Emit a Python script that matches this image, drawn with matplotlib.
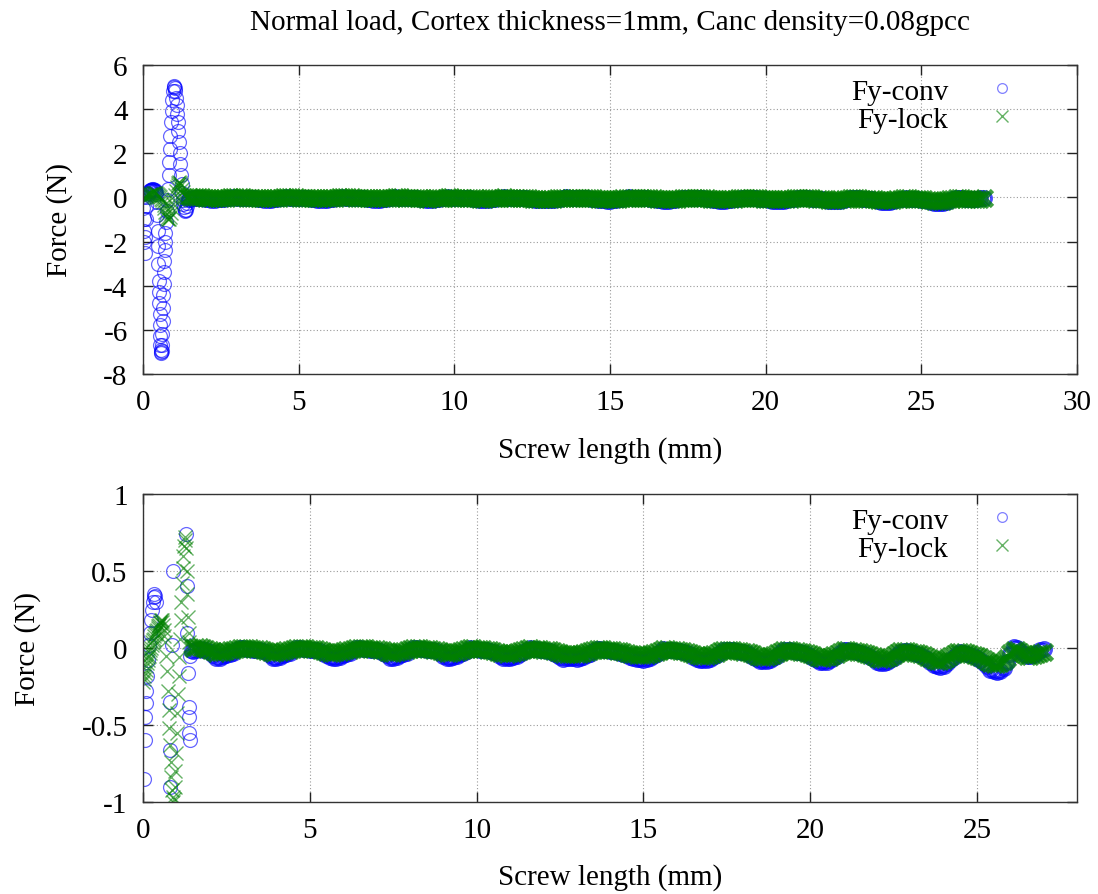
import numpy as np
import matplotlib
matplotlib.use("Agg")
import matplotlib.pyplot as plt
from matplotlib.lines import Line2D

plt.rcParams["font.family"] = ["Liberation Serif", "DejaVu Serif"]
plt.rcParams["axes.unicode_minus"] = False

TITLE = "Normal load, Cortex thickness=1mm, Canc density=0.08gpcc"
XLABEL = "Screw length (mm)"
YLABEL = "Force (N)"
SERIES = ["Fy-conv", "Fy-lock"]

# ---------------- upper panel: head region (0 - 1.5 mm) ----------------
top_conv_head_x = [0.00, 0.01, 0.02, 0.03, 0.04, 0.05, 0.07, 0.09, 0.11, 0.13, 0.15, 0.17,
                   0.19, 0.21, 0.23, 0.25, 0.27, 0.29, 0.31, 0.33, 0.35, 0.37, 0.39, 0.41,
                   0.43, 0.45, 0.46, 0.47, 0.48, 0.49, 0.50, 0.51, 0.52, 0.53, 0.54, 0.55,
                   0.56, 0.57, 0.58, 0.59, 0.60, 0.61, 0.62, 0.63, 0.64, 0.65, 0.66, 0.67,
                   0.68, 0.70, 0.71, 0.72, 0.74, 0.76, 0.78, 0.80, 0.82, 0.84, 0.86, 0.88,
                   0.90, 0.92, 0.94, 0.96, 0.98, 1.00, 1.02, 1.04, 1.06, 1.08, 1.10, 1.12,
                   1.14, 1.16, 1.18, 1.20, 1.22, 1.24, 1.26, 1.28, 1.30, 1.32, 1.34, 1.36,
                   1.38, 1.40, 1.42, 1.44, 1.46, 1.48]
top_conv_head_y = [0.0, -0.5, -1.0, -1.5, -2.0, -2.5, -1.8, -1.0, -0.4, 0.0, 0.15, 0.22,
                   0.27, 0.3, 0.32, 0.34, 0.35, 0.36, 0.36, 0.35, 0.34, 0.32, 0.3, 0.25,
                   0.15, -0.2, -0.8, -1.5, -2.2, -3.0, -3.8, -4.3, -4.8, -5.3, -5.8, -6.3,
                   -6.7, -6.9, -7.0, -7.05, -6.95, -6.7, -6.2, -5.6, -5.0, -4.4, -3.9, -3.4,
                   -2.9, -2.4, -2.0, -1.6, -1.1, -0.6, -0.1, 0.4, 1.0, 1.6, 2.2, 2.8,
                   3.4, 3.9, 4.4, 4.8, 5.0, 5.05, 4.95, 4.8, 4.5, 4.2, 3.8, 3.4,
                   3.0, 2.5, 2.0, 1.5, 1.0, 0.6, 0.2, -0.1, -0.3, -0.45, -0.55, -0.6,
                   -0.55, -0.4, -0.25, -0.1, -0.05, -0.04]

top_lock_head_x = [0.00, 0.03, 0.06, 0.09, 0.12, 0.15, 0.18, 0.21, 0.24, 0.27, 0.30, 0.33,
                   0.36, 0.39, 0.42, 0.45, 0.48, 0.51, 0.54, 0.57, 0.60, 0.63, 0.66, 0.69,
                   0.72, 0.75, 0.78, 0.81, 0.84, 0.87, 0.90, 0.93, 0.96, 0.99, 1.02, 1.05,
                   1.08, 1.11, 1.14, 1.17, 1.20, 1.23, 1.26, 1.29, 1.32, 1.35, 1.38, 1.41,
                   1.44, 1.47]
top_lock_head_y = [-0.02, 0.0, 0.03, 0.05, 0.07, 0.09, 0.1, 0.12, 0.14, 0.15, 0.17, 0.18,
                   0.19, 0.2, 0.18, 0.15, 0.1, 0.05, 0.0, -0.05, -0.1, -0.2, -0.35, -0.5,
                   -0.65, -0.8, -0.92, -1.0, -1.0, -0.9, -0.7, -0.5, -0.3, -0.1, 0.1, 0.3,
                   0.45, 0.58, 0.66, 0.7, 0.66, 0.55, 0.4, 0.25, 0.12, 0.05, 0.02, 0.02,
                   0.02, 0.02]

# ---------------- lower panel: head region (0 - 1.5 mm) ----------------
bot_conv_head_x = [0.03, 0.05, 0.06, 0.08, 0.10, 0.12, 0.15, 0.18, 0.21, 0.24, 0.27, 0.30,
                   0.32, 0.34, 0.36, 0.38, 0.80, 0.81, 0.82, 0.86, 0.90, 1.29, 1.31, 1.33,
                   1.36, 1.37, 1.38, 1.39, 1.40, 1.42, 1.45]
bot_conv_head_y = [-0.85, -0.6, -0.45, -0.36, -0.28, -0.18, -0.08, 0.02, 0.1, 0.18, 0.25, 0.3,
                   0.33, 0.35, 0.34, 0.3, -0.35, -0.66, -0.9, 0.02, 0.5, 0.74, 0.4, 0.1,
                   -0.16, -0.38, -0.45, -0.55, -0.6, -0.05, -0.02]

bot_lock_head_x = [0.00, 0.02, 0.04, 0.06, 0.08, 0.10, 0.12, 0.14, 0.16, 0.18, 0.20, 0.22,
                   0.24, 0.26, 0.28, 0.30, 0.32, 0.34, 0.36, 0.38, 0.40, 0.42, 0.44, 0.46,
                   0.48, 0.50, 0.52, 0.54, 0.56, 0.58, 0.60, 0.62, 0.64, 0.66, 0.70, 0.73,
                   0.75, 0.77, 0.79, 0.81, 0.83, 0.85, 0.87, 0.89, 0.91, 0.93, 0.95, 0.97,
                   0.99, 1.01, 1.03, 1.05, 1.07, 1.09, 1.11, 1.13, 1.15, 1.17, 1.19, 1.21,
                   1.23, 1.25, 1.27, 1.29, 1.31, 1.33, 1.35, 1.37, 1.39, 1.41, 1.43]
bot_lock_head_y = [-0.22, -0.2, -0.18, -0.16, -0.14, -0.12, -0.1, -0.08, -0.06, -0.05, -0.03, -0.01,
                   0.0, 0.02, 0.04, 0.05, 0.06, 0.08, 0.09, 0.1, 0.11, 0.12, 0.13, 0.14,
                   0.15, 0.16, 0.17, 0.18, 0.18, 0.17, 0.15, 0.12, 0.08, 0.04, -0.05, -0.15,
                   -0.28, -0.4, -0.52, -0.63, -0.74, -0.84, -0.92, -0.97, -1.0, -0.98, -0.9, -0.8,
                   -0.68, -0.55, -0.42, -0.3, -0.18, -0.06, 0.06, 0.18, 0.3, 0.42, 0.52, 0.6,
                   0.66, 0.7, 0.72, 0.65, 0.5, 0.35, 0.2, 0.1, 0.04, 0.02, 0.01]

# ---------------- threaded shaft (1.5 - 27.0 mm, every 0.1 mm) ----------------
shaft_x = np.round(np.arange(1.5, 27.05, 0.1), 2)

top_conv_shaft = [
    -0.05, -0.03, -0.02, -0.03, -0.04, -0.06, -0.09, -0.12, -0.11, -0.09,
    -0.07, -0.05, -0.03, -0.01, 0.0, -0.01, -0.01, -0.02, -0.02, -0.03,
    -0.03, -0.04, -0.06, -0.09, -0.12, -0.12, -0.1, -0.08, -0.06, -0.04,
    -0.02, 0.0, -0.01, -0.01, -0.02, -0.02, -0.03, -0.03, -0.04, -0.06,
    -0.09, -0.11, -0.12, -0.11, -0.1, -0.08, -0.06, -0.04, -0.02, 0.0,
    -0.01, -0.01, -0.02, -0.02, -0.03, -0.03, -0.04, -0.06, -0.09, -0.12,
    -0.12, -0.1, -0.08, -0.06, -0.04, -0.02, 0.0, -0.01, -0.01, -0.02,
    -0.02, -0.03, -0.03, -0.04, -0.06, -0.09, -0.12, -0.12, -0.1, -0.08,
    -0.06, -0.04, -0.02, 0.0, -0.01, -0.01, -0.02, -0.02, -0.03, -0.03,
    -0.04, -0.06, -0.09, -0.12, -0.13, -0.12, -0.1, -0.08, -0.06, -0.04,
    -0.02, 0.0, -0.01, -0.01, -0.02, -0.02, -0.03, -0.03, -0.04, -0.06,
    -0.09, -0.12, -0.13, -0.12, -0.13, -0.13, -0.12, -0.1, -0.08, -0.05,
    -0.02, 0.0, -0.01, -0.01, -0.02, -0.02, -0.03, -0.03, -0.04, -0.05,
    -0.07, -0.1, -0.12, -0.13, -0.14, -0.14, -0.13, -0.11, -0.08, -0.05,
    -0.02, 0.0, -0.01, -0.01, -0.02, -0.02, -0.03, -0.04, -0.05, -0.07,
    -0.1, -0.13, -0.15, -0.15, -0.14, -0.12, -0.1, -0.07, -0.04, -0.01,
    -0.01, -0.01, -0.02, -0.02, -0.03, -0.04, -0.05, -0.07, -0.1, -0.13,
    -0.15, -0.16, -0.15, -0.13, -0.11, -0.08, -0.05, -0.02, -0.01, -0.02,
    -0.02, -0.03, -0.04, -0.05, -0.06, -0.08, -0.11, -0.14, -0.16, -0.17,
    -0.16, -0.14, -0.12, -0.09, -0.06, -0.03, -0.02, -0.02, -0.03, -0.04,
    -0.05, -0.06, -0.07, -0.09, -0.12, -0.15, -0.18, -0.18, -0.16, -0.14,
    -0.11, -0.07, -0.04, -0.03, -0.03, -0.04, -0.05, -0.06, -0.07, -0.09,
    -0.12, -0.16, -0.19, -0.21, -0.21, -0.2, -0.17, -0.13, -0.09, -0.05,
    -0.04, -0.05, -0.06, -0.07, -0.08, -0.1, -0.13, -0.16, -0.2, -0.24,
    -0.26, -0.27, -0.25, -0.21, -0.15, -0.08, -0.02, -0.01, -0.04, -0.07,
    -0.09, -0.09, -0.08, -0.06, -0.04, -0.03,
]

top_lock_shaft = [
    0.02, 0.02, 0.01, 0.0, 0.0, -0.01, -0.03, -0.04, -0.04, -0.03,
    -0.03, -0.02, -0.01, 0.0, 0.01, 0.0, 0.0, 0.0, -0.01, -0.01,
    -0.01, -0.02, -0.03, -0.04, -0.04, -0.04, -0.03, -0.03, -0.02, -0.01,
    0.0, 0.01, 0.0, 0.0, 0.0, -0.01, -0.01, -0.01, -0.02, -0.03,
    -0.04, -0.04, -0.04, -0.04, -0.03, -0.03, -0.02, -0.01, 0.0, 0.0,
    0.0, 0.0, 0.0, -0.01, -0.01, -0.01, -0.02, -0.02, -0.03, -0.04,
    -0.04, -0.04, -0.03, -0.03, -0.02, -0.01, 0.0, 0.0, 0.0, -0.01,
    -0.01, -0.01, -0.02, -0.02, -0.03, -0.04, -0.05, -0.05, -0.04, -0.04,
    -0.03, -0.02, -0.01, 0.0, 0.0, -0.01, -0.01, -0.01, -0.02, -0.02,
    -0.03, -0.03, -0.04, -0.05, -0.05, -0.05, -0.04, -0.04, -0.03, -0.02,
    -0.01, 0.0, -0.01, -0.01, -0.01, -0.02, -0.02, -0.02, -0.03, -0.04,
    -0.05, -0.06, -0.06, -0.05, -0.06, -0.06, -0.05, -0.05, -0.04, -0.03,
    -0.02, -0.01, -0.01, -0.01, -0.02, -0.02, -0.02, -0.03, -0.03, -0.04,
    -0.04, -0.05, -0.06, -0.06, -0.07, -0.07, -0.06, -0.06, -0.05, -0.04,
    -0.03, -0.01, -0.01, -0.02, -0.02, -0.02, -0.03, -0.03, -0.04, -0.04,
    -0.06, -0.07, -0.07, -0.08, -0.07, -0.07, -0.06, -0.05, -0.03, -0.02,
    -0.02, -0.02, -0.02, -0.03, -0.03, -0.04, -0.04, -0.05, -0.06, -0.07,
    -0.08, -0.09, -0.08, -0.08, -0.07, -0.05, -0.04, -0.02, -0.02, -0.02,
    -0.03, -0.03, -0.04, -0.04, -0.05, -0.06, -0.07, -0.08, -0.09, -0.09,
    -0.09, -0.08, -0.07, -0.06, -0.04, -0.02, -0.02, -0.03, -0.03, -0.04,
    -0.04, -0.05, -0.06, -0.07, -0.08, -0.1, -0.11, -0.1, -0.1, -0.09,
    -0.07, -0.05, -0.03, -0.03, -0.03, -0.04, -0.05, -0.05, -0.06, -0.07,
    -0.08, -0.1, -0.11, -0.12, -0.12, -0.12, -0.1, -0.08, -0.06, -0.04,
    -0.04, -0.04, -0.05, -0.06, -0.06, -0.08, -0.09, -0.11, -0.13, -0.15,
    -0.16, -0.16, -0.15, -0.13, -0.09, -0.05, -0.02, -0.02, -0.04, -0.06,
    -0.08, -0.08, -0.07, -0.06, -0.05, -0.04,
]

bot_conv_shaft = [
    -0.02, -0.01, -0.005, -0.01, -0.015, -0.025, -0.045, -0.065, -0.062, -0.055,
    -0.048, -0.04, -0.03, -0.015, 0.0, -0.003, -0.006, -0.008, -0.01, -0.012,
    -0.013, -0.018, -0.028, -0.048, -0.066, -0.063, -0.056, -0.048, -0.04, -0.03,
    -0.015, 0.0, -0.003, -0.006, -0.008, -0.01, -0.012, -0.014, -0.02, -0.03,
    -0.045, -0.06, -0.066, -0.062, -0.056, -0.048, -0.04, -0.03, -0.015, 0.0,
    -0.003, -0.006, -0.008, -0.01, -0.012, -0.015, -0.02, -0.03, -0.048, -0.066,
    -0.063, -0.056, -0.048, -0.04, -0.03, -0.015, 0.0, -0.003, -0.006, -0.009,
    -0.011, -0.013, -0.016, -0.022, -0.032, -0.05, -0.066, -0.063, -0.057, -0.05,
    -0.042, -0.032, -0.017, -0.002, -0.005, -0.008, -0.011, -0.013, -0.016, -0.019,
    -0.024, -0.034, -0.05, -0.064, -0.068, -0.064, -0.058, -0.05, -0.04, -0.028,
    -0.012, -0.003, -0.006, -0.009, -0.012, -0.015, -0.018, -0.022, -0.03, -0.045,
    -0.06, -0.07, -0.068, -0.066, -0.068, -0.07, -0.066, -0.058, -0.048, -0.036,
    -0.02, -0.006, -0.008, -0.011, -0.014, -0.017, -0.02, -0.024, -0.03, -0.038,
    -0.048, -0.058, -0.065, -0.07, -0.074, -0.076, -0.072, -0.064, -0.054, -0.04,
    -0.024, -0.008, -0.01, -0.013, -0.016, -0.019, -0.022, -0.026, -0.032, -0.042,
    -0.056, -0.07, -0.078, -0.08, -0.077, -0.07, -0.06, -0.048, -0.032, -0.012,
    -0.01, -0.013, -0.016, -0.02, -0.024, -0.028, -0.034, -0.044, -0.058, -0.072,
    -0.082, -0.086, -0.083, -0.076, -0.066, -0.052, -0.035, -0.015, -0.012, -0.016,
    -0.02, -0.024, -0.028, -0.033, -0.04, -0.05, -0.065, -0.08, -0.09, -0.092,
    -0.088, -0.08, -0.068, -0.052, -0.034, -0.016, -0.014, -0.018, -0.022, -0.027,
    -0.032, -0.038, -0.045, -0.056, -0.072, -0.088, -0.1, -0.098, -0.09, -0.078,
    -0.062, -0.044, -0.024, -0.018, -0.022, -0.028, -0.034, -0.04, -0.048, -0.058,
    -0.072, -0.09, -0.108, -0.12, -0.122, -0.115, -0.1, -0.08, -0.058, -0.036,
    -0.028, -0.032, -0.038, -0.045, -0.054, -0.064, -0.078, -0.095, -0.118, -0.14,
    -0.152, -0.158, -0.15, -0.128, -0.09, -0.04, 0.005, 0.0, -0.02, -0.04,
    -0.05, -0.052, -0.045, -0.03, -0.015, -0.008,
]

bot_lock_shaft = [
    0.0, 0.005, 0.005, 0.0, -0.005, -0.01, -0.02, -0.03, -0.028, -0.024,
    -0.02, -0.015, -0.01, -0.004, 0.003, 0.002, 0.0, -0.002, -0.004, -0.006,
    -0.008, -0.012, -0.018, -0.026, -0.03, -0.028, -0.024, -0.02, -0.015, -0.01,
    -0.004, 0.003, 0.002, 0.0, -0.002, -0.004, -0.006, -0.008, -0.012, -0.018,
    -0.025, -0.03, -0.03, -0.028, -0.024, -0.02, -0.015, -0.01, -0.004, 0.002,
    0.001, 0.0, -0.002, -0.004, -0.006, -0.008, -0.011, -0.016, -0.024, -0.03,
    -0.03, -0.026, -0.022, -0.018, -0.013, -0.007, 0.0, -0.001, -0.003, -0.005,
    -0.007, -0.009, -0.011, -0.015, -0.02, -0.027, -0.032, -0.032, -0.029, -0.025,
    -0.021, -0.016, -0.009, -0.002, -0.003, -0.005, -0.007, -0.009, -0.011, -0.013,
    -0.017, -0.023, -0.03, -0.035, -0.036, -0.034, -0.03, -0.026, -0.021, -0.015,
    -0.008, -0.003, -0.005, -0.007, -0.009, -0.011, -0.013, -0.016, -0.02, -0.026,
    -0.033, -0.038, -0.038, -0.037, -0.038, -0.039, -0.037, -0.033, -0.028, -0.022,
    -0.013, -0.006, -0.007, -0.009, -0.011, -0.013, -0.015, -0.017, -0.02, -0.025,
    -0.03, -0.036, -0.04, -0.043, -0.045, -0.046, -0.044, -0.04, -0.034, -0.026,
    -0.017, -0.008, -0.009, -0.011, -0.013, -0.015, -0.017, -0.02, -0.024, -0.03,
    -0.038, -0.045, -0.05, -0.051, -0.049, -0.045, -0.039, -0.031, -0.022, -0.012,
    -0.011, -0.013, -0.015, -0.018, -0.021, -0.024, -0.028, -0.034, -0.042, -0.05,
    -0.056, -0.058, -0.056, -0.051, -0.044, -0.035, -0.025, -0.014, -0.013, -0.016,
    -0.019, -0.022, -0.025, -0.029, -0.034, -0.04, -0.048, -0.056, -0.062, -0.063,
    -0.061, -0.056, -0.048, -0.038, -0.027, -0.016, -0.015, -0.018, -0.021, -0.025,
    -0.029, -0.033, -0.038, -0.045, -0.054, -0.064, -0.071, -0.07, -0.065, -0.057,
    -0.046, -0.034, -0.022, -0.019, -0.022, -0.026, -0.03, -0.035, -0.04, -0.047,
    -0.056, -0.066, -0.075, -0.082, -0.083, -0.078, -0.068, -0.055, -0.041, -0.028,
    -0.025, -0.028, -0.032, -0.037, -0.043, -0.05, -0.06, -0.072, -0.085, -0.097,
    -0.104, -0.106, -0.1, -0.085, -0.062, -0.035, -0.015, -0.012, -0.025, -0.04,
    -0.05, -0.052, -0.046, -0.038, -0.03, -0.025,
]

assert len(shaft_x) == len(top_conv_shaft) == len(top_lock_shaft)
assert len(shaft_x) == len(bot_conv_shaft) == len(bot_lock_shaft)

CONV_COLOR = (0.0, 0.0, 1.0)
LOCK_COLOR = (0.0, 0.5, 0.0)
conv_style = dict(linestyle="none", marker="o", markerfacecolor="none",
                  markeredgecolor=CONV_COLOR)
lock_style = dict(linestyle="none", marker="x", markeredgecolor=LOCK_COLOR)

FS = 21
fig = plt.figure(figsize=(10.98, 8.95), dpi=100)
ax_top = fig.add_axes([0.13024, 0.58101, 0.85064, 0.34525])
ax_bot = fig.add_axes([0.13024, 0.10279, 0.85064, 0.34413])


def draw_panel(ax, conv_x, conv_y, conv_shaft, lock_x, lock_y, lock_shaft):
    # the shaft nodes are packed so tightly that their symbols merge into a band
    ax.plot(conv_x, conv_y, markersize=10, markeredgewidth=0.9, alpha=0.6, **conv_style)
    ax.plot(shaft_x, conv_shaft, markersize=10, markeredgewidth=2.2, alpha=0.7, **conv_style)
    ax.plot(lock_x, lock_y, markersize=10, markeredgewidth=1.0, alpha=0.6, **lock_style)
    ax.plot(shaft_x, lock_shaft, markersize=11.5, markeredgewidth=3.4, alpha=0.75, **lock_style)


draw_panel(ax_top, top_conv_head_x, top_conv_head_y, top_conv_shaft,
           top_lock_head_x, top_lock_head_y, top_lock_shaft)
draw_panel(ax_bot, bot_conv_head_x, bot_conv_head_y, bot_conv_shaft,
           bot_lock_head_x, bot_lock_head_y, bot_lock_shaft)

ax_top.set_xlim(0, 30)
ax_top.set_ylim(-8, 6)
ax_top.set_xticks([0, 5, 10, 15, 20, 25, 30])
ax_top.set_yticks([-8, -6, -4, -2, 0, 2, 4, 6])

ax_bot.set_xlim(0, 28)
ax_bot.set_ylim(-1, 1)
ax_bot.set_xticks([0, 5, 10, 15, 20, 25])
ax_bot.set_yticks([-1, -0.5, 0, 0.5, 1])
ax_bot.set_yticklabels(["-1", "-0.5", "0", "0.5", "1"])

for ax, ylab_x, xlab_y in ((ax_top, -0.089, -0.243), (ax_bot, -0.124, -0.243)):
    ax.grid(True, linestyle=(0, (1, 2)), color="#9a9a9a", linewidth=0.8)
    ax.set_axisbelow(True)
    ax.tick_params(direction="in", top=True, right=True, length=7, width=1,
                   labelsize=FS, pad=11, color="#222222")
    for sp in ax.spines.values():
        sp.set_color("#333333")
        sp.set_linewidth(1.0)
    ax.set_xlabel(XLABEL, fontsize=FS, va="center")
    ax.set_ylabel(YLABEL, fontsize=FS, va="center")
    ax.xaxis.set_label_coords(0.5, xlab_y)
    ax.yaxis.set_label_coords(ylab_x, 0.5)
    handles = [
        Line2D([], [], linestyle="none", marker="o", markersize=7, markerfacecolor="none",
               markeredgecolor=CONV_COLOR, markeredgewidth=0.9, alpha=0.5),
        Line2D([], [], linestyle="none", marker="x", markersize=9,
               markeredgecolor=LOCK_COLOR, markeredgewidth=1.0, alpha=0.6),
    ]
    ax.legend(handles, SERIES, loc="upper right", bbox_to_anchor=(0.948, 0.995),
              frameon=False, markerfirst=False, fontsize=FS, handlelength=1.0,
              handletextpad=1.35, labelspacing=0.05, borderaxespad=0.0)

fig.text(0.5556, 1 - 23 / 895, TITLE, ha="center", va="center", fontsize=FS)

fig.savefig("out.png", dpi=100)
